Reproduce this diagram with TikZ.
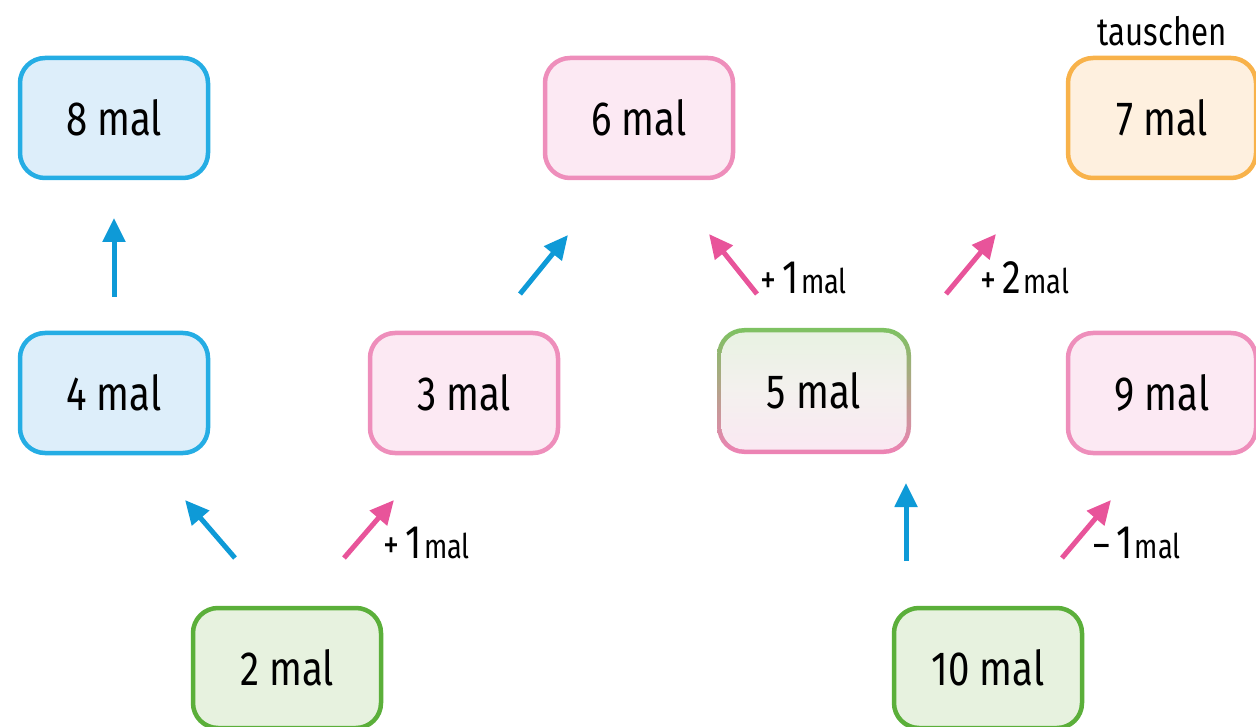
\documentclass[tikz,border=0pt]{standalone}
\usepackage{fontspec}
\setmainfont{Fira Sans}[FakeStretch=0.8]
\usetikzlibrary{arrows.meta}
\definecolor{bluebd}{HTML}{25ADE4}
\definecolor{bluefl}{HTML}{DDEEFA}
\definecolor{pinkbd}{HTML}{EE8EBB}
\definecolor{pinkfl}{HTML}{FCE9F3}
\definecolor{orabd}{HTML}{F8B24A}
\definecolor{orafl}{HTML}{FEF0DF}
\definecolor{grnbd}{HTML}{5BAF3A}
\definecolor{grnfl}{HTML}{E7F2DF}
\definecolor{mixgt}{HTML}{7DC261}
\definecolor{mixpb}{HTML}{EE82B5}
\definecolor{mixft}{HTML}{E8F2E2}
\definecolor{mixfb}{HTML}{FAE8F2}
\definecolor{arrblue}{HTML}{0E9AD7}
\definecolor{arrpink}{HTML}{E8549A}
\tikzset{
  box/.style={rounded corners=25pt, line width=4.5pt, minimum width=188pt,
    minimum height=120pt, inner sep=0pt, font=\fontsize{48}{56}\selectfont},
  bluebox/.style={box, draw=bluebd, fill=bluefl},
  pinkbox/.style={box, draw=pinkbd, fill=pinkfl},
  orabox/.style={box, draw=orabd, fill=orafl},
  grnbox/.style={box, draw=grnbd, fill=grnfl},
  arr/.style={line width=5pt, -{Triangle[length=24pt,width=22pt]}},
  barr/.style={arr, arrblue},
  parr/.style={arr, arrpink},
  lbl/.style={anchor=base west, inner sep=0pt},
}
\newcommand{\lblsign}[2]{{\fontsize{40}{40}\selectfont #1\,}{\fontsize{47}{47}\selectfont #2\kern2pt}{\fontsize{34}{34}\selectfont mal}}
\begin{document}
\begin{tikzpicture}[x=1pt,y=-1pt]
\useasboundingbox (0,0) rectangle (1256,727);
\clip (0,0) rectangle (1256,727);
% boxes
\node[bluebox] (b8) at (114,118) {8 mal};
\node[pinkbox] (b6) at (639,118) {6 mal};
\node[orabox]  (b7) at (1162,118) {7 mal};
\node[anchor=base, inner sep=0pt, font=\fontsize{39}{44}\selectfont] (tau) at (1162,46) {tauschen};
\node[bluebox] (b4) at (114,393) {4 mal};
\node[pinkbox] (b3) at (464,393) {3 mal};
\node[pinkbox] (b9) at (1162,393) {9 mal};
\node[grnbox]  (b2) at (287,668) {2 mal};
\node[grnbox]  (b10) at (988,668) {10 mal};
% mixed box 5
\shade[top color=mixgt, bottom color=mixpb, middle color=mixgt!50!mixpb, rounded corners=27pt]
  (717,328) rectangle (911,454);
\shade[top color=mixft, bottom color=mixfb, middle color=mixft!50!mixfb!80!white, rounded corners=23pt]
  (721.5,332.5) rectangle (906.5,449.5);
\node[box, draw=none, fill=none] (b5) at (814,391) {5 mal};
% arrows
\coordinate (a1s) at (114,297); \coordinate (a1e) at (114,218);
\coordinate (a2s) at (520,294); \coordinate (a2e) at (568,235);
\coordinate (a3s) at (757,294); \coordinate (a3e) at (709,234);
\coordinate (a4s) at (946,294); \coordinate (a4e) at (996,234);
\coordinate (a5s) at (235,558); \coordinate (a5e) at (185,500);
\coordinate (a6s) at (344,558); \coordinate (a6e) at (394,500);
\coordinate (a7s) at (906,561); \coordinate (a7e) at (906,483);
\coordinate (a8s) at (1062,558); \coordinate (a8e) at (1111,500);
\draw[barr] (a1s) -- (a1e);
\draw[barr] (a2s) -- (a2e);
\draw[parr] (a3s) -- (a3e);
\draw[parr] (a4s) -- (a4e);
\draw[barr] (a5s) -- (a5e);
\draw[parr] (a6s) -- (a6e);
\draw[barr] (a7s) -- (a7e);
\draw[parr] (a8s) -- (a8e);
% labels
\node[lbl] (l3) at (760,294) {\lblsign{+}{1}};
\node[lbl] (l4) at (980,294) {\lblsign{+}{2}};
\node[lbl] (l6) at (383,558) {\lblsign{+}{1}};
\node[lbl] (l8) at (1093,558) {\lblsign{–}{1}};
\end{tikzpicture}
\end{document}
